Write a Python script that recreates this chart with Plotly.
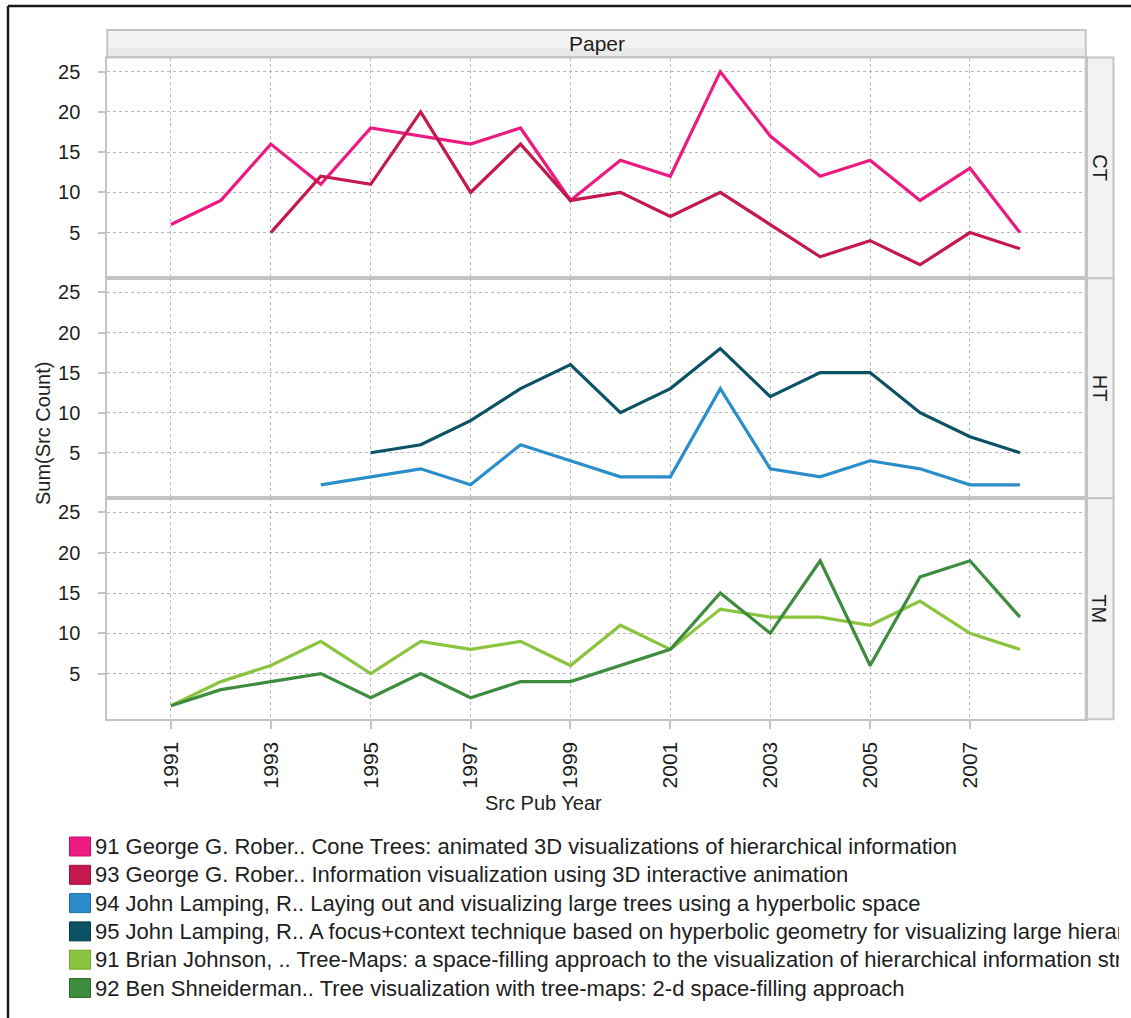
import plotly.graph_objects as go

# ---------------- data ----------------
years = list(range(1991, 2009))

ct_cone_trees = [6, 9, 16, 11, 18, 17, 16, 18, 9, 14, 12, 25, 17, 12, 14, 9, 13, 5]
ct_info_vis = [None, None, 5, 12, 11, 20, 10, 16, 9, 10, 7, 10, 6, 2, 4, 1, 5, 3]
ht_laying_out = [None, None, None, 1, 2, 3, 1, 6, 4, 2, 2, 13, 3, 2, 4, 3, 1, 1]
ht_focus_context = [None, None, None, None, 5, 6, 9, 13, 16, 10, 13, 18, 12, 15, 15, 10, 7, 5]
tm_tree_maps = [1, 4, 6, 9, 5, 9, 8, 9, 6, 11, 8, 13, 12, 12, 11, 14, 10, 8]
tm_tree_vis = [1, 3, 4, 5, 2, 5, 2, 4, 4, 6, 8, 15, 10, 19, 6, 17, 19, 12]

panel_labels = ["CT", "HT", "TM"]
x_tick_years = [1991, 1993, 1995, 1997, 1999, 2001, 2003, 2005, 2007]
y_tick_values = [5, 10, 15, 20, 25]

legend_labels = [
    "91 George G. Rober.. Cone Trees: animated 3D visualizations of hierarchical information",
    "93 George G. Rober.. Information visualization using 3D interactive animation",
    "94 John Lamping, R.. Laying out and visualizing large trees using a hyperbolic space",
    "95 John Lamping, R.. A focus+context technique based on hyperbolic geometry for visualizing large hierarchies",
    "91 Brian Johnson, .. Tree-Maps: a space-filling approach to the visualization of hierarchical information structures",
    "92 Ben Shneiderman.. Tree visualization with tree-maps: 2-d space-filling approach",
]
colors = ["#EC1B82", "#C3194E", "#2B8ECB", "#0B5265", "#8BC53F", "#3E8C3E"]
border_colors = ["#C8106A", "#9E1040", "#1F70A3", "#063B48", "#6EA52B", "#2D6B2D"]

series_values = [ct_cone_trees, ct_info_vis, ht_laying_out, ht_focus_context, tm_tree_maps, tm_tree_vis]
series_panel = [1, 1, 2, 2, 3, 3]

# ---------------- geometry (pixels) ----------------
W, H = 1131, 1018
FONT = "Liberation Sans, Arial, sans-serif"
TXT = "#1e1e1e"
FRAME = "#c4c4c4"
GRID = "#b8b8b8"


def fx(x):
    return x / W


def fy(y):
    return 1 - y / H


plot_left, plot_right = 107.3, 1085.7
strip_right = 1113.5
header_top = 30.0
edges = [57.5, 278.3, 498.3, 719.3]
x_range = [1989.725, 2009.317]
y_range = [-0.68, 26.76]

fig = go.Figure()

for vals, panel, col, name in zip(series_values, series_panel, colors, legend_labels):
    sfx = "" if panel == 1 else str(panel)
    fig.add_trace(go.Scatter(
        x=years, y=vals, mode="lines", name=name,
        line=dict(color=col, width=3.2),
        xaxis="x" + sfx, yaxis="y" + sfx, showlegend=False,
        connectgaps=False, hoverinfo="x+y+name",
    ))

layout = dict(
    width=W, height=H,
    margin=dict(l=0, r=0, t=0, b=0),
    paper_bgcolor="white", plot_bgcolor="white",
    font=dict(family=FONT, color=TXT, size=20),
    showlegend=False,
)

for i in range(3):
    sfx = "" if i == 0 else str(i + 1)
    top, bot = edges[i], edges[i + 1]
    layout["xaxis" + sfx] = dict(
        domain=[fx(plot_left), fx(plot_right)],
        range=x_range, anchor="y" + sfx,
        tickvals=x_tick_years,
        ticktext=[str(v) for v in x_tick_years],
        showticklabels=(i == 2),
        ticks="outside" if i == 2 else "",
        ticklen=8, tickcolor=FRAME, tickwidth=2,
        tickangle=-90,
        tickfont=dict(size=21, color=TXT, family=FONT),
        showgrid=True, gridcolor=GRID, griddash="dot", gridwidth=1,
        showline=True, linecolor=FRAME, linewidth=2, mirror=True,
        zeroline=False, fixedrange=True,
        ticklabelstandoff=4,
    )
    if i > 0:
        layout["xaxis" + sfx]["matches"] = "x"
    layout["yaxis" + sfx] = dict(
        domain=[fy(bot), fy(top)],
        range=y_range, anchor="x" + sfx,
        tickvals=y_tick_values,
        ticks="outside", ticklen=7, tickcolor=FRAME, tickwidth=2,
        tickfont=dict(size=20, color=TXT, family=FONT),
        showgrid=True, gridcolor=GRID, griddash="dot", gridwidth=1,
        showline=True, linecolor=FRAME, linewidth=2, mirror=True,
        zeroline=False, fixedrange=True,
        ticklabelstandoff=14,
    )

shapes = []
annotations = []

# outer black frame (left and top)
shapes.append(dict(type="line", xref="paper", yref="paper",
                   x0=fx(8), x1=fx(W + 5), y0=fy(6), y1=fy(6),
                   line=dict(color="#1a1a1a", width=2.5)))
shapes.append(dict(type="line", xref="paper", yref="paper",
                   x0=fx(8), x1=fx(8), y0=fy(6), y1=fy(H + 5),
                   line=dict(color="#1a1a1a", width=2.5)))

# column header "Paper" (light gradient imitated with two bands)
shapes.append(dict(type="rect", xref="paper", yref="paper",
                   x0=fx(plot_left), x1=fx(plot_right), y0=fy(header_top), y1=fy(edges[0]),
                   fillcolor="#f3f3f3", line=dict(color=FRAME, width=2), layer="below"))
shapes.append(dict(type="rect", xref="paper", yref="paper",
                   x0=fx(plot_left + 1), x1=fx(plot_right - 1), y0=fy(edges[0] - 1), y1=fy(edges[0] - 9),
                   fillcolor="#e9e9e9", line=dict(width=0), layer="below"))
annotations.append(dict(text="Paper", xref="paper", yref="paper",
                        x=fx((plot_left + plot_right) / 2), y=fy((header_top + edges[0]) / 2),
                        showarrow=False, xanchor="center", yanchor="middle",
                        font=dict(size=21, color=TXT, family=FONT)))

# row header strips
for i, lab in enumerate(panel_labels):
    top, bot = edges[i], edges[i + 1]
    shapes.append(dict(type="rect", xref="paper", yref="paper",
                       x0=fx(plot_right), x1=fx(strip_right), y0=fy(bot), y1=fy(top),
                       fillcolor="#f2f2f2", line=dict(color=FRAME, width=2), layer="below"))
    annotations.append(dict(text=lab, xref="paper", yref="paper",
                            x=fx((plot_right + strip_right) / 2), y=fy((top + bot) / 2),
                            showarrow=False, textangle=90, xanchor="center", yanchor="middle",
                            font=dict(size=20, color=TXT, family=FONT)))

# axis titles
annotations.append(dict(text="Sum(Src Count)", xref="paper", yref="paper",
                        x=fx(43), y=fy(434), showarrow=False, textangle=-90,
                        xanchor="center", yanchor="middle",
                        font=dict(size=20, color=TXT, family=FONT)))
annotations.append(dict(text="Src Pub Year", xref="paper", yref="paper",
                        x=fx(543), y=fy(803), showarrow=False,
                        xanchor="center", yanchor="middle",
                        font=dict(size=20, color=TXT, family=FONT)))

# colour legend (long labels are clipped at the right border as in the original)
sw_x0, sw_x1 = 69.5, 90.5
row0, row_step = 846.5, 28.3
for k, (lab, col, bcol) in enumerate(zip(legend_labels, colors, border_colors)):
    cy = row0 + k * row_step
    shapes.append(dict(type="rect", xref="paper", yref="paper",
                       x0=fx(sw_x0), x1=fx(sw_x1), y0=fy(cy + 9.5), y1=fy(cy - 9.5),
                       fillcolor=col, line=dict(color=bcol, width=1)))
    annotations.append(dict(text=lab, xref="paper", yref="paper",
                            x=fx(94), y=fy(cy), showarrow=False,
                            xanchor="left", yanchor="middle", align="left",
                            width=1118 - 94, borderpad=0,
                            font=dict(size=22, color=TXT, family=FONT)))

layout["shapes"] = shapes
layout["annotations"] = annotations
fig.update_layout(**layout)

fig.write_html(
    "out.html",
    config={"displayModeBar": False},
    post_script="document.body.style.margin='0px';document.body.style.overflow='hidden';",
)
